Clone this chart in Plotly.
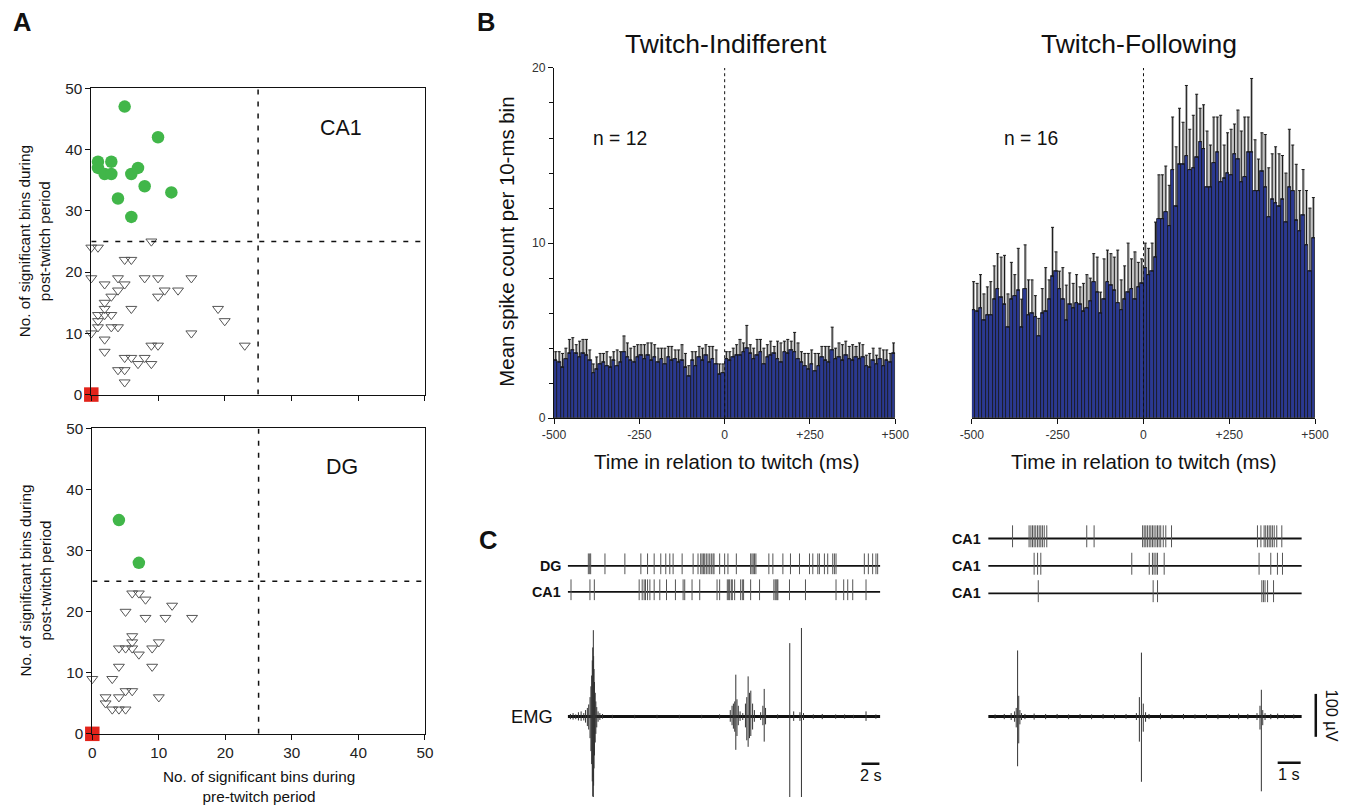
import numpy as np
import plotly.graph_objects as go

# Figure fills the 1353x805 window (body margin removed by post_script).
W, H = 1353, 805
# measured mapping from page pixels to the photographed picture: r = S*p + O
SX, OX = 0.982, 9.6
SY, OY = 0.981, 7.6
FONT = "Liberation Sans, Arial, Helvetica, sans-serif"


def px(x):
    return max(0.0, min(1.0, ((x - OX) / SX) / W))


def py(y):
    return max(0.0, min(1.0, 1 - ((y - OY) / SY) / H))


def fs(n):
    return round(n / SX, 1)


# ---------------- Panel A data ----------------
ca1_follow_x = [5, 10, 1, 1, 2, 3, 3, 6, 7, 8, 4, 12, 6]
ca1_follow_y = [47, 42, 38, 37, 36, 38, 36, 36, 37, 34, 32, 33, 29]
ca1_other_x = [0, 1, 9, 5, 6, 0, 2, 4, 5, 8, 10, 15, 4, 3, 2, 10, 11, 13, 6, 2,
               1, 2, 3, 1, 1, 3, 4, 2, 2, 0, 15, 19, 20, 23, 9, 10, 5, 6, 7, 8,
               9, 4, 5, 5]
ca1_other_y = [24, 24, 25, 22, 22, 19, 18, 19, 18, 19, 19, 19, 17, 16, 15, 16, 17, 17, 14, 14,
               13, 13, 13, 12, 11, 11, 11, 9, 7, 10, 10, 14, 12, 8, 8, 8, 6, 6, 5, 6,
               5, 4, 4, 2]
dg_follow_x = [4, 7]
dg_follow_y = [35, 28]
dg_other_x = [6, 7, 8, 5, 12, 8, 11, 15, 6, 6, 10, 4, 5, 6, 9, 7, 4, 9, 0, 3,
              2, 4, 2, 5, 6, 10, 3, 4, 5]
dg_other_y = [23, 23, 22, 20, 21, 19, 19, 19, 16, 15, 15, 14, 14, 14, 14, 13, 11, 11, 9, 9,
              6, 6, 5, 7, 7, 6, 4, 4, 4]
silent_x = [0]
silent_y = [0]
threshold = 25
a_ticks = [0, 10, 20, 30, 40, 50]

# ---------------- Panel B data ----------------
bin_centers = list(np.arange(-495, 500, 10))
indiff_mean = [3.3, 3.2, 2.9, 3.4, 3.7, 3.9, 3.7, 3.5, 3.7, 3.6,
               3.3, 2.6, 2.8, 3.1, 3.2, 3.0, 2.9, 3.3, 3.0, 3.2,
               3.8, 3.5, 3.3, 3.2, 3.5, 3.6, 3.4, 3.6, 3.3, 3.5,
               3.2, 3.4, 3.1, 3.5, 3.3, 3.4, 3.2, 3.3, 2.9, 2.4,
               3.3, 3.0, 3.5, 3.3, 3.6, 3.2, 3.4, 3.1, 2.5, 2.6,
               3.4, 3.3, 3.5, 3.6, 3.6, 3.8, 4.0, 3.7, 3.4, 3.6,
               3.8, 3.1, 3.5, 3.6, 3.7, 3.4, 3.2, 3.8, 3.7, 3.9,
               3.8, 3.4, 3.2, 3.0, 2.8, 3.1, 2.7, 3.0, 3.5, 3.3,
               3.2, 3.9, 3.4, 3.5, 3.3, 3.6, 3.4, 3.3, 3.5, 3.4,
               3.5, 3.0, 2.9, 3.3, 3.1, 3.4, 3.0, 3.3, 3.2, 3.7]
indiff_err = [0.5, 0.6, 0.8, 0.6, 0.8, 0.7, 0.5, 0.9, 0.8, 0.9,
              0.6, 0.5, 0.7, 0.6, 0.5, 0.8, 0.6, 0.5, 0.9, 0.6,
              0.9, 0.8, 0.7, 0.9, 0.7, 0.6, 0.8, 0.7, 1.0, 0.7,
              0.8, 0.6, 0.9, 0.6, 0.8, 0.5, 0.7, 0.9, 0.8, 0.6,
              0.5, 0.8, 0.6, 0.7, 0.6, 0.9, 0.7, 0.8, 0.6, 0.5,
              0.4, 0.5, 0.5, 0.6, 0.9, 0.5, 1.3, 0.5, 0.6, 0.9,
              0.7, 0.9, 0.7, 0.8, 0.4, 1.0, 1.1, 0.6, 0.8, 0.5,
              1.1, 0.9, 0.6, 0.7, 0.9, 0.8, 1.0, 0.7, 0.6, 0.8,
              0.9, 1.3, 0.6, 0.8, 0.9, 0.8, 0.7, 0.9, 0.6, 0.9,
              0.7, 0.6, 0.8, 0.7, 0.5, 0.6, 0.9, 0.6, 0.5, 0.6]
follow_mean = [6.2, 6.1, 6.3, 5.6, 5.9, 5.9, 6.8, 7.4, 6.9, 6.5,
               5.2, 6.8, 7.0, 7.3, 5.2, 7.4, 5.9, 6.0, 5.8, 4.7,
               6.0, 6.1, 6.8, 8.1, 8.4, 7.4, 6.8, 5.6, 6.5, 6.3,
               6.6, 6.5, 6.1, 6.3, 6.7, 7.8, 7.2, 6.0, 6.8, 7.8,
               7.6, 7.3, 6.6, 6.2, 6.8, 7.2, 7.4, 6.8, 7.5, 7.7,
               8.6, 8.2, 8.4, 9.2, 11.4, 11.4, 11.8, 11.0, 14.2, 12.1,
               14.5, 14.5, 15.0, 14.2, 14.3, 14.9, 15.8, 15.4, 13.2, 13.2,
               14.6, 15.2, 13.5, 13.7, 14.0, 13.9, 15.1, 14.8, 13.5, 13.8,
               15.2, 15.2, 13.0, 13.0, 14.1, 13.2, 11.5, 12.5, 12.3, 12.1,
               12.5, 11.2, 13.2, 13.0, 11.3, 10.7, 11.6, 9.9, 8.4, 10.3]
follow_err = [1.6, 1.6, 1.9, 1.5, 1.6, 1.9, 1.9, 2.0, 2.3, 2.8,
              1.9, 2.1, 1.2, 2.4, 1.6, 2.5, 2.0, 1.9, 1.2, 1.0,
              1.4, 2.5, 1.1, 2.8, 1.1, 1.0, 1.8, 2.0, 1.8, 1.4,
              1.6, 1.0, 1.6, 1.9, 1.3, 1.6, 2.0, 1.2, 2.3, 1.8,
              1.8, 1.9, 3.0, 1.7, 1.9, 2.8, 1.7, 2.7, 1.4, 1.4,
              1.4, 1.5, 1.6, 2.0, 2.5, 2.5, 2.6, 2.3, 3.0, 3.4,
              3.2, 2.4, 4.0, 2.3, 3.0, 3.6, 1.9, 2.5, 3.2, 2.4,
              2.6, 2.0, 3.8, 1.9, 2.3, 2.6, 1.7, 2.8, 2.9, 3.4,
              2.0, 4.2, 2.9, 1.8, 2.2, 3.0, 2.8, 2.6, 3.2, 3.0,
              2.5, 2.8, 3.3, 2.6, 3.2, 2.3, 2.6, 3.1, 3.6, 2.3]
b_tickvals = [-500, -250, 0, 250, 500]
b_ticktext = ["-500", "-250", "0", "+250", "+500"]

# ---------------- Panel C data ----------------
rec_len_left = 35.0    # s
rec_len_right = 13.65  # s
dg_spikes_left = [2.31, 2.46, 2.57, 4.17, 6.40, 8.19, 8.94, 9.68, 10.42, 10.98, 11.43, 11.80,
                  12.81, 14.04, 14.59, 14.89, 15.04, 15.19, 15.34, 15.52, 15.71, 15.90, 16.08,
                  16.27, 16.38, 17.01, 17.57, 17.94, 18.88, 20.48, 20.63, 20.77, 20.92, 21.07,
                  22.52, 22.97, 24.09, 24.94, 25.95, 27.07, 27.44, 28.00, 28.18, 28.74, 29.11,
                  29.67, 29.86, 30.04, 33.21, 33.66, 34.14, 34.51, 34.70]
ca1_spikes_left = [0.37, 2.49, 2.98, 8.00, 8.34, 8.56, 8.71, 8.94, 9.20, 9.68, 10.31, 11.06,
                   12.06, 12.92, 13.10, 13.92, 14.78, 16.72, 17.01, 17.87, 18.02, 18.13, 18.32,
                   18.43, 18.69, 19.36, 19.55, 19.69, 20.48, 21.48, 23.08, 23.23, 23.34, 23.45,
                   23.53, 24.83, 26.62, 30.04, 30.90, 31.35, 31.91, 33.40]
ca1a_spikes_right = [1.06, 1.78, 1.86, 1.93, 2.00, 2.07, 2.15, 2.22, 2.29, 2.36, 2.44, 2.55,
                     4.29, 4.61, 6.72, 6.79, 6.86, 6.93, 7.01, 7.08, 7.15, 7.22, 7.30, 7.37,
                     7.44, 7.51, 7.62, 7.73, 7.98, 11.72, 11.87, 12.01, 12.08, 12.16, 12.23,
                     12.30, 12.37, 12.45, 12.56, 12.78]
ca1b_spikes_right = [2.00, 2.15, 2.29, 6.25, 7.01, 7.15, 7.22, 7.30, 7.37, 7.66, 11.79, 12.30,
                     12.59, 12.81]
ca1c_spikes_right = [2.18, 7.18, 7.37, 11.91, 11.98, 12.05, 12.16, 12.42]

emgL_t = [0.3, 0.6, 0.9, 1.2, 1.5, 1.8, 2.0, 2.2, 2.35, 2.5,
          2.6, 2.68, 2.75, 2.8, 2.84, 2.87, 2.9, 2.95, 3.0, 3.08,
          3.15, 3.25, 3.4, 3.6, 3.9, 5.0, 7.5, 10.0, 12.5, 15.0,
          17.0, 18.2, 18.4, 18.55, 18.7, 18.82, 18.95, 19.1, 19.3, 19.6,
          19.9, 20.05, 20.2, 20.35, 20.5, 20.7, 20.9, 21.6, 21.85, 22.0,
          22.15, 23.5, 24.86, 25.3, 26.0, 26.17, 26.4, 27.5, 28.5, 30.0,
          31.0, 32.0, 33.4, 34.5]
emgL_up = [6, 8, 5, 10, 12, 8, 15, 20, 28, 45,
           70, 95, 130, 160, 120, 200, 140, 110, 80, 55,
           35, 22, 12, 8, 6, 4, 4, 4, 4, 4,
           5, 15, 25, 30, 35, 97, 40, 25, 12, 8,
           30, 45, 93, 55, 60, 30, 15, 10, 25, 64,
           20, 5, 170, 12, 10, 205, 8, 5, 6, 5,
           5, 4, 12, 5]
emgL_down = [6, 7, 6, 9, 10, 9, 14, 22, 30, 50,
             80, 110, 150, 185, 140, 205, 160, 120, 90, 60,
             40, 25, 12, 8, 5, 4, 4, 4, 4, 4,
             5, 12, 20, 28, 35, 77, 45, 20, 10, 8,
             25, 55, 70, 50, 45, 30, 12, 8, 20, 58,
             18, 5, 205, 10, 10, 205, 8, 5, 6, 5,
             5, 4, 10, 5]
emgR_t = [0.3, 0.7, 1.0, 1.15, 1.22, 1.28, 1.33, 1.38, 1.45, 1.6,
          2.0, 2.5, 3.0, 3.5, 4.0, 4.5, 5.0, 5.5, 6.0, 6.45,
          6.58, 6.67, 6.75, 6.85, 7.0, 7.5, 8.0, 8.5, 9.0, 9.5,
          10.0, 10.5, 10.9, 11.3, 11.7, 11.83, 11.89, 11.95, 12.05, 12.3,
          12.6, 12.9, 13.3]
emgR_up = [5, 6, 8, 12, 20, 153, 48, 15, 8, 6,
           7, 6, 6, 5, 6, 5, 6, 5, 6, 8,
           45, 148, 30, 10, 6, 7, 5, 6, 5, 6,
           5, 6, 7, 6, 8, 25, 62, 15, 8, 6,
           7, 5, 5]
emgR_down = [5, 6, 8, 12, 25, 115, 62, 18, 8, 6,
             7, 6, 5, 6, 5, 6, 5, 6, 5, 8,
             58, 151, 35, 12, 6, 6, 5, 6, 5, 5,
             6, 5, 6, 6, 8, 30, 173, 20, 8, 6,
             6, 5, 5]

fig = go.Figure()

# ---------------- Panel A ----------------
def scatter_panel(xa, ya, fx, fy, ox, oy):
    fig.add_trace(go.Scatter(x=ox, y=oy, mode="markers", xaxis=xa, yaxis=ya,
                             marker=dict(symbol="triangle-down-open", size=9.5, color="#555",
                                         line=dict(width=1, color="#555")),
                             cliponaxis=False, showlegend=False))
    fig.add_trace(go.Scatter(x=fx, y=fy, mode="markers", xaxis=xa, yaxis=ya,
                             marker=dict(symbol="circle", size=12.5, color="#41b649"),
                             cliponaxis=False, showlegend=False))
    fig.add_trace(go.Scatter(x=silent_x, y=silent_y, mode="markers", xaxis=xa, yaxis=ya,
                             marker=dict(symbol="square", size=14.5, color="#e2231a"),
                             cliponaxis=False, showlegend=False))


scatter_panel("x", "y", ca1_follow_x, ca1_follow_y, ca1_other_x, ca1_other_y)
scatter_panel("x2", "y2", dg_follow_x, dg_follow_y, dg_other_x, dg_other_y)

# ---------------- Panel B ----------------
def hist_panel(xa, ya, mean, err):
    # light grey band between the bar top and the error cap
    fig.add_trace(go.Bar(x=bin_centers, y=err, base=mean, width=9, xaxis=xa, yaxis=ya,
                         marker=dict(color="#c2c2c2", line=dict(width=0)),
                         showlegend=False, hoverinfo="skip"))
    fig.add_trace(go.Bar(x=bin_centers, y=mean, width=10, xaxis=xa, yaxis=ya,
                         marker=dict(color="#2b3990", line=dict(color="#111", width=0.7)),
                         error_y=dict(type="data", symmetric=False, array=err,
                                      arrayminus=[0] * len(err), color="#1a1a1a",
                                      thickness=1, width=1.5),
                         showlegend=False))


hist_panel("x3", "y3", indiff_mean, indiff_err)
hist_panel("x4", "y4", follow_mean, follow_err)

# ---------------- Panel C ----------------
def raster(xa, ya, rows, length):
    for row, spikes in rows:
        fig.add_trace(go.Scatter(x=[0, length], y=[row, row], mode="lines", xaxis=xa, yaxis=ya,
                                 line=dict(color="#111", width=1.8), showlegend=False,
                                 hoverinfo="skip"))
        xs, ys = [], []
        for t in spikes:
            xs += [t, t, None]
            ys += [row - 0.32, row + 0.48, None]
        fig.add_trace(go.Scatter(x=xs, y=ys, mode="lines", xaxis=xa, yaxis=ya,
                                 line=dict(color="#555", width=1), showlegend=False,
                                 hoverinfo="skip"))


raster("x5", "y5", [(1, dg_spikes_left), (0, ca1_spikes_left)], rec_len_left)
raster("x7", "y7", [(2, ca1a_spikes_right), (1, ca1b_spikes_right), (0, ca1c_spikes_right)],
       rec_len_right)


def emg(xa, ya, t, up, down, length):
    fig.add_trace(go.Scatter(x=[0, length], y=[0, 0], mode="lines", xaxis=xa, yaxis=ya,
                             line=dict(color="#111", width=3), showlegend=False,
                             hoverinfo="skip"))
    xs, ys = [], []
    for ti, u, d in zip(t, up, down):
        xs += [ti, ti, None]
        ys += [-d, u, None]
    fig.add_trace(go.Scatter(x=xs, y=ys, mode="lines", xaxis=xa, yaxis=ya,
                             line=dict(color="#333", width=1), showlegend=False,
                             hoverinfo="skip"))


emg("x6", "y6", emgL_t, emgL_up, emgL_down, rec_len_left)
emg("x8", "y8", emgR_t, emgR_up, emgR_down, rec_len_right)

# ---------------- Layout ----------------
ax_common = dict(showgrid=False, zeroline=False, showline=True, linecolor="#111", linewidth=1,
                 ticks="outside", ticklen=5, tickcolor="#111",
                 tickfont=dict(family=FONT, size=fs(15), color="#222"))
small_tick = {**ax_common, "tickfont": dict(family=FONT, size=fs(12), color="#333")}
hidden = dict(visible=False, showgrid=False, zeroline=False)
# EMG axes: baseline at picture y=716.7, 100 µV = 43.3 px; bottom of axes = page bottom
emg_base_px, uv_per_px = 716.7, 100 / 43.3
emg_bottom = -((SY * H + OY) - emg_base_px) * uv_per_px
emg_top = (emg_base_px - 620) * uv_per_px

layout = dict(
    width=W, height=H, autosize=False, margin=dict(l=0, r=0, t=0, b=0, pad=0),
    paper_bgcolor="white", plot_bgcolor="white", showlegend=False, bargap=0,
    barmode="overlay",
    font=dict(family=FONT, color="#111"),
    xaxis=dict(domain=[px(89), px(423)], range=[0, 50], tickvals=a_ticks, showticklabels=False,
               mirror=True, anchor="y", **ax_common),
    yaxis=dict(domain=[py(394), py(87)], range=[0, 50], tickvals=a_ticks, mirror=True,
               anchor="x", **ax_common),
    xaxis2=dict(domain=[px(90), px(423)], range=[0, 50], tickvals=a_ticks, mirror=True,
                anchor="y2", **ax_common),
    yaxis2=dict(domain=[py(734), py(428)], range=[0, 50], tickvals=a_ticks, mirror=True,
                anchor="x2", **ax_common),
    xaxis3=dict(domain=[px(552.3), px(894)], range=[-500, 500], tickvals=b_tickvals,
                ticktext=b_ticktext, anchor="y3", **small_tick),
    yaxis3=dict(domain=[py(417.7), py(66.7)], range=[0, 20], tickvals=[0, 10, 20], anchor="x3",
                minor=dict(tickmode="linear", tick0=0, dtick=2, ticks="outside", ticklen=4,
                           tickcolor="#111"),
                **small_tick),
    xaxis4=dict(domain=[px(970.7), px(1314.3)], range=[-500, 500], tickvals=b_tickvals,
                ticktext=b_ticktext, anchor="y4", **small_tick),
    yaxis4=dict(domain=[py(417.7), py(66.7)], range=[0, 20], anchor="x4", **hidden),
    xaxis5=dict(domain=[px(566), px(879)], range=[0, rec_len_left], anchor="y5", **hidden),
    yaxis5=dict(domain=[py(604.7), py(552.7)], range=[-0.5, 1.5], anchor="x5", **hidden),
    xaxis6=dict(domain=[px(566), px(879)], range=[0, rec_len_left], anchor="y6", **hidden),
    yaxis6=dict(domain=[0, py(620)], range=[emg_bottom, emg_top], anchor="x6", **hidden),
    xaxis7=dict(domain=[px(987), px(1301)], range=[0, rec_len_right], anchor="y7", **hidden),
    yaxis7=dict(domain=[py(607), py(524.5)], range=[-0.5, 2.5], anchor="x7", **hidden),
    xaxis8=dict(domain=[px(987), px(1301)], range=[0, rec_len_right], anchor="y8", **hidden),
    yaxis8=dict(domain=[0, py(620)], range=[emg_bottom, emg_top], anchor="x8", **hidden),
)
fig.update_layout(**layout)

shapes = []
for xr, yr in [("x", "y"), ("x2", "y2")]:
    shapes.append(dict(type="line", xref=xr, yref=yr, x0=threshold, x1=threshold, y0=0, y1=50,
                       line=dict(color="#111", width=1.5, dash="5px,7px")))
    shapes.append(dict(type="line", xref=xr, yref=yr, x0=0, x1=50, y0=threshold, y1=threshold,
                       line=dict(color="#111", width=1.5, dash="5px,7px")))
for xr, yr in [("x3", "y3"), ("x4", "y4")]:
    shapes.append(dict(type="line", xref=xr, yref=yr, x0=0, x1=0, y0=0, y1=20,
                       line=dict(color="#111", width=1, dash="dot")))
# scale bars
shapes.append(dict(type="line", xref="x6", yref="y6", x0=32.9, x1=34.9, y0=-109, y1=-109,
                   line=dict(color="#111", width=2.5)))
shapes.append(dict(type="line", xref="x8", yref="y8", x0=12.6, x1=13.6, y0=-107, y1=-107,
                   line=dict(color="#111", width=2.5)))
shapes.append(dict(type="line", xref="paper", yref="paper", x0=px(1315), x1=px(1315),
                   y0=py(737), y1=py(694), line=dict(color="#111", width=2.5)))
fig.update_layout(shapes=shapes)

ann = []


def A(text, x, y, size, xref="paper", yref="paper", angle=0, xanchor="center", yanchor="middle",
      color="#111"):
    ann.append(dict(text=text, x=x, y=y, xref=xref, yref=yref, showarrow=False,
                    textangle=angle, xanchor=xanchor, yanchor=yanchor,
                    font=dict(family=FONT, size=fs(size), color=color)))


A("<b>A</b>", px(20), py(21), 25)
A("<b>B</b>", px(484), py(21), 25)
A("<b>C</b>", px(486), py(540), 25)
A("CA1", 37.4, 43.5, 21, xref="x", yref="y")
A("DG", 37.6, 43.7, 21, xref="x2", yref="y2")
A("No. of significant bins during<br>post-twitch period", px(33), py(240), 15, angle=-90)
A("No. of significant bins during<br>post-twitch period", px(33), py(580), 15, angle=-90)
A("No. of significant bins during<br>pre-twitch period", px(257), py(787), 15)
A("Twitch-Indifferent", px(724), py(43), 26)
A("Twitch-Following", px(1138), py(43), 26)
A("n = 12", px(618), py(137), 19)
A("n = 16", px(1030), py(137), 19)
A("Mean spike count per 10-ms bin", px(505), py(241), 20, angle=-90)
A("Time in relation to twitch (ms)", px(725), py(462), 20)
A("Time in relation to twitch (ms)", px(1143), py(462), 20)
A("<b>DG</b>", px(561), py(565.7), 14, xanchor="right")
A("<b>CA1</b>", px(561), py(591.7), 14, xanchor="right")
A("<b>CA1</b>", px(982), py(538.3), 14, xanchor="right")
A("<b>CA1</b>", px(982), py(566), 14, xanchor="right")
A("<b>CA1</b>", px(982), py(593.3), 14, xanchor="right")
A("EMG", px(553), py(716.7), 18, xanchor="right")
A("2 s", 33.9, -136, 16, xref="x6", yref="y6")
A("1 s", 13.1, -134, 16, xref="x8", yref="y8")
A("100 µV", px(1331), py(715.5), 16, angle=90)
fig.update_layout(annotations=ann)

fig.write_html("out.html", config={"displayModeBar": False},
               post_script="document.body.style.margin='0';document.body.style.overflow='hidden';")
